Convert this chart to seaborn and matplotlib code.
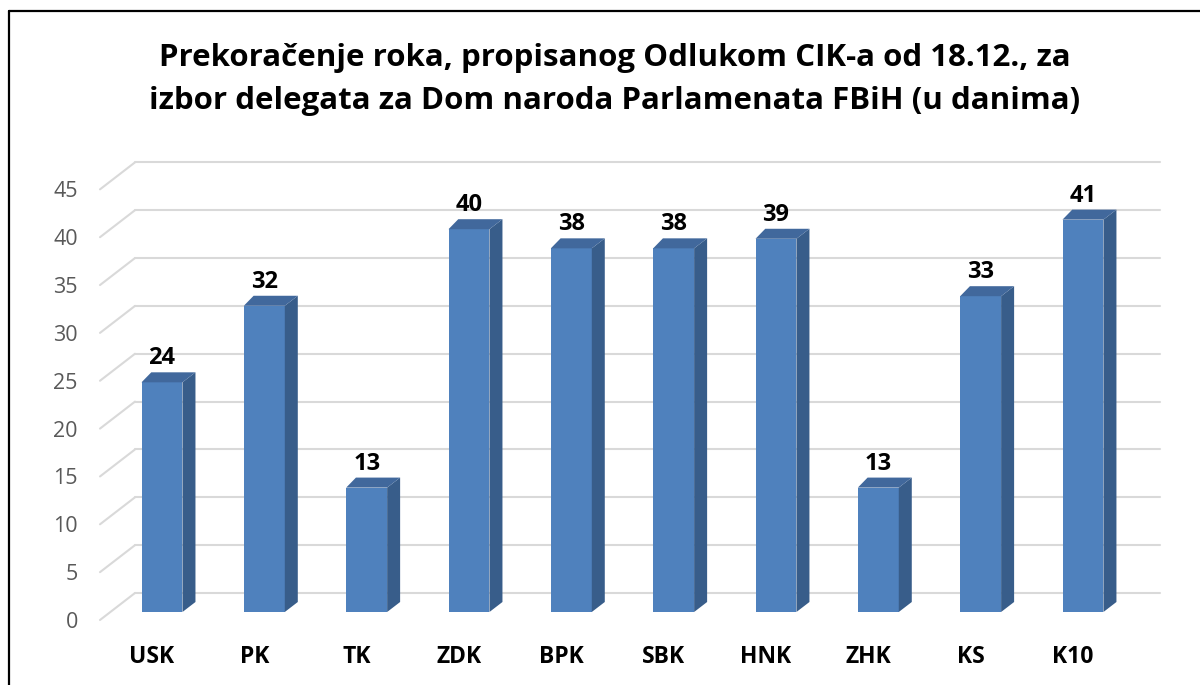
import matplotlib
matplotlib.use("Agg")
import matplotlib.pyplot as plt
import matplotlib.transforms as mtransforms
from matplotlib.patches import Polygon
from matplotlib.lines import Line2D
import seaborn as sns

categories = ["USK", "PK", "TK", "ZDK", "BPK", "SBK", "HNK", "ZHK", "KS", "K10"]
values = [24, 32, 13, 40, 38, 38, 39, 13, 33, 41]
yticks = [0, 5, 10, 15, 20, 25, 30, 35, 40, 45]
title_lines = ["Prekoračenje roka, propisanog Odlukom CIK-a od 18.12., za",
               "izbor delegata za Dom naroda Parlamenata FBiH (u danima)"]

sns.set_theme(style="white")
plt.rcParams["font.family"] = ["Open Sans", "DejaVu Sans"]

FRONT = "#4F81BD"
SIDE = "#385D8A"
TOP = "#41689C"
GRID = "#D9D9D9"

W, H, DPI = 1200, 685, 100
fig = plt.figure(figsize=(W / DPI, H / DPI), dpi=DPI)

# axes placement in pixels
ax_left, ax_right = 100, 1160
ax_bottom_px, ax_top_px = 612, 612 - 9.57 * 45
ax = fig.add_axes([ax_left / W, (H - ax_bottom_px) / H,
                   (ax_right - ax_left) / W, (ax_bottom_px - ax_top_px) / H])

sns.barplot(x=categories, y=values, color=FRONT, saturation=1, width=0.4,
            ax=ax, zorder=3)

px_per_x = 102.33
x0 = (ax_left - 162) / px_per_x
x1 = (ax_right - 162) / px_per_x
ax.set_xlim(x0, x1)
ax.set_ylim(0, 45)
px_per_y = (ax_bottom_px - ax_top_px) / 45

for s in ax.spines.values():
    s.set_visible(False)

# back-wall gridlines and side diagonals
back_dx = 35 / px_per_x
back_dy = 19 / px_per_y
front_dy = -8 / px_per_y
for v in yticks:
    ax.add_line(Line2D([x0 + back_dx, x1], [v + back_dy, v + back_dy],
                       color=GRID, lw=1.5, clip_on=False, zorder=1))
    ax.add_line(Line2D([x0, x0 + back_dx], [v + front_dy, v + back_dy],
                       color=GRID, lw=1.5, clip_on=False, zorder=1))

# 3D sides and tops of bars
dx = 13 / px_per_x
dy = 10 / px_per_y
for p, val in zip(ax.patches, values):
    bx, bw, bh = p.get_x(), p.get_width(), p.get_height()
    p.set_edgecolor("none")
    side = Polygon([(bx + bw, 0), (bx + bw + dx, dy), (bx + bw + dx, bh + dy), (bx + bw, bh)],
                   closed=True, facecolor=SIDE, edgecolor="none", zorder=3, clip_on=False)
    top = Polygon([(bx, bh), (bx + dx * 0.75, bh + dy), (bx + bw + dx, bh + dy), (bx + bw, bh)],
                  closed=True, facecolor=TOP, edgecolor="none", zorder=3, clip_on=False)
    ax.add_patch(side)
    ax.add_patch(top)
    ax.annotate(f"{val:g}", (bx + bw / 2, bh), xytext=(0, 18), textcoords="offset pixels",
                ha="center", va="baseline", fontsize=17, fontweight="bold", color="black",
                annotation_clip=False)

# y tick labels
ax.set_yticks(yticks)
ax.set_yticklabels([str(t) for t in yticks], fontsize=15.5, color="#595959")
ax.tick_params(axis="y", length=0, pad=16)
off = mtransforms.ScaledTranslation(0, -8 / DPI, fig.dpi_scale_trans)
for lab in ax.get_yticklabels():
    lab.set_transform(lab.get_transform() + off)

# x tick labels
ax.set_xlabel("")
ax.set_ylabel("")
ax.tick_params(axis="x", length=0, pad=36.7)
xoff = mtransforms.ScaledTranslation(-10 / DPI, 0, fig.dpi_scale_trans)
for lab in ax.get_xticklabels():
    lab.set_fontsize(16.5)
    lab.set_fontweight("bold")
    lab.set_color("black")
    lab.set_va("baseline")
    lab.set_transform(lab.get_transform() + xoff)

for i, line in enumerate(title_lines):
    fig.text(615 / W, 1 - (66 + 43 * i) / H, line, ha="center", va="baseline",
             fontsize=22.5, fontweight="bold", color="black")

# chart border (top and left)
fig.add_artist(Line2D([9 / W, 1], [1 - 11 / H, 1 - 11 / H], color="black", lw=1.6,
                      transform=fig.transFigure))
fig.add_artist(Line2D([9 / W, 9 / W], [0, 1 - 11 / H], color="black", lw=1.6,
                      transform=fig.transFigure))

fig.savefig("out.png", dpi=DPI, facecolor="white")
